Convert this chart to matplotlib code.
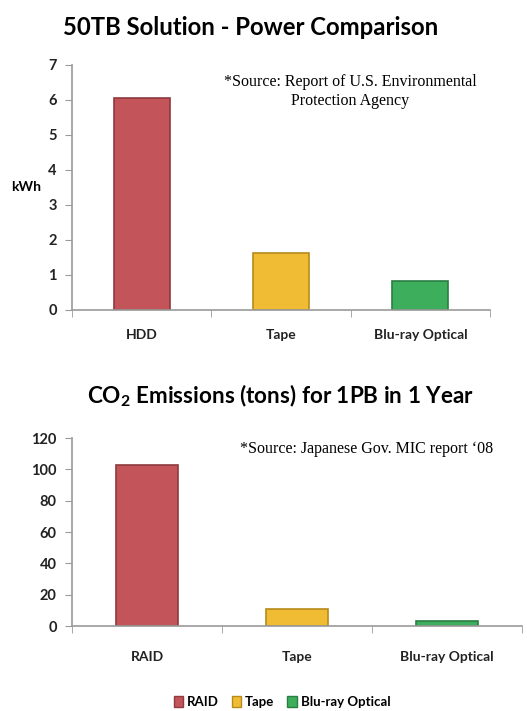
import matplotlib.pyplot as plt
from matplotlib.patches import Patch

# power use for a 50TB setup (kWh)
power_labels = ['HDD', 'Tape', 'Blu-ray Optical']
power_kwh = [6.05, 1.63, 0.83]

# yearly CO2 for 1PB (tons)
co2_labels = ['RAID', 'Tape', 'Blu-ray Optical']
co2_tons = [103, 11, 3]

colors = ['#C3555A', '#F0BC33', '#3DAE5C']
edges = ['#8E3A3E', '#B88A1C', '#2A7E42']

plt.rcParams['font.family'] = ['Lato', 'DejaVu Sans']

fig = plt.figure(figsize=(5.27, 7.11), dpi=100)
fig.patch.set_facecolor('white')


def style_axes(ax, labels, ymax, step, pad):
    for side in ['top', 'right']:
        ax.spines[side].set_visible(False)
    for side in ['left', 'bottom']:
        ax.spines[side].set_color('#9A9A9A')
        ax.spines[side].set_linewidth(1.2)
    ax.set_xlim(-0.5, len(labels) - 0.5)
    ax.set_ylim(0, ymax)
    ax.set_yticks(range(0, ymax + 1, step))
    ax.set_xticks(range(len(labels)))
    ax.set_xticklabels(labels, fontsize=10, fontweight='bold', color='#222222')
    ax.set_xticks([i - 0.5 for i in range(len(labels) + 1)], minor=True)
    ax.tick_params(axis='x', which='major', length=0, pad=pad)
    ax.tick_params(axis='x', which='minor', length=5, color='#9A9A9A', direction='out')
    ax.tick_params(axis='y', length=5, color='#9A9A9A', labelsize=10.5, pad=6)
    for t in ax.get_yticklabels():
        t.set_fontweight('bold')
        t.set_color('#222222')


# top chart: power comparison
ax1 = fig.add_axes([0.1366, 0.564, 0.7932, 0.3446])
ax1.bar(range(3), power_kwh, width=0.40, color=colors, edgecolor=edges, linewidth=1.2)
style_axes(ax1, power_labels, 7, 1, 14)
ax1.set_ylabel('kWh', fontsize=10, fontweight='bold', rotation=0, labelpad=16, va='center')
ax1.text(0.665, 0.965, '*Source: Report of U.S. Environmental\nProtection Agency',
         transform=ax1.transAxes, ha='center', va='top', fontsize=11.5,
         family='Liberation Serif', linespacing=1.3)
fig.text(0.475, 0.962, '50TB Solution - Power Comparison', ha='center', va='center',
         fontsize=17.2, fontweight='bold')

# bottom chart: CO2 emissions
ax2 = fig.add_axes([0.1366, 0.1195, 0.8539, 0.2644])
ax2.bar(range(3), co2_tons, width=0.41, color=colors, edgecolor=edges, linewidth=1.2)
style_axes(ax2, co2_labels, 120, 20, 18)
ax2.text(0.655, 0.985, '*Source: Japanese Gov. MIC report \u201808',
         transform=ax2.transAxes, ha='center', va='top', fontsize=11.5,
         family='Liberation Serif')
fig.text(0.532, 0.443, 'CO$_\\mathregular{2}$ Emissions (tons) for 1PB in 1 Year',
         ha='center', va='center', fontsize=16.2, fontweight='bold')

handles = [Patch(facecolor=c, edgecolor=e) for c, e in zip(colors, edges)]
fig.legend(handles, co2_labels, loc='center', bbox_to_anchor=(0.535, 0.012), ncol=3,
           frameon=False, handlelength=0.7, handleheight=0.9,
           handletextpad=0.3, columnspacing=1.0,
           prop={'weight': 'bold', 'size': 9.5})

fig.savefig('out.png', dpi=100)
